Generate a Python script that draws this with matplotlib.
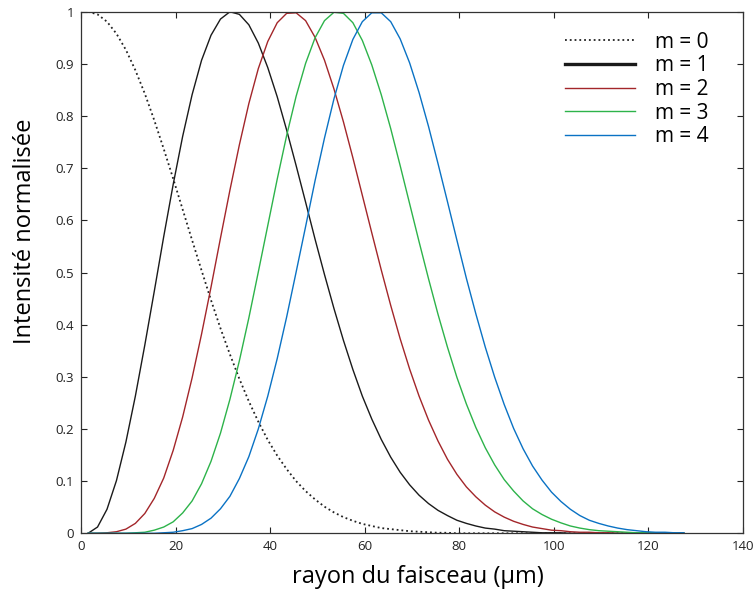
import matplotlib
matplotlib.use("Agg")
import matplotlib.pyplot as plt

# rayon du faisceau (um), echantillonne tous les 2 um
rayon = [1.5, 3.5, 5.5, 7.5, 9.5, 11.5, 13.5, 15.5, 17.5, 19.5,
         21.5, 23.5, 25.5, 27.5, 29.5, 31.5, 33.5, 35.5, 37.5, 39.5,
         41.5, 43.5, 45.5, 47.5, 49.5, 51.5, 53.5, 55.5, 57.5, 59.5,
         61.5, 63.5, 65.5, 67.5, 69.5, 71.5, 73.5, 75.5, 77.5, 79.5,
         81.5, 83.5, 85.5, 87.5, 89.5, 91.5, 93.5, 95.5, 97.5, 99.5,
         101.5, 103.5, 105.5, 107.5, 109.5, 111.5, 113.5, 115.5, 117.5, 119.5,
         121.5, 123.5, 125.5, 127.5]

# intensites normalisees
m0 = [1.000, 0.995, 0.981, 0.958, 0.927, 0.888, 0.843, 0.792, 0.737, 0.680,
      0.621, 0.562, 0.504, 0.447, 0.393, 0.343, 0.296, 0.253, 0.214, 0.179,
      0.149, 0.123, 0.100, 0.081, 0.065, 0.051, 0.040, 0.031, 0.024, 0.018,
      0.014, 0.010, 0.008, 0.006, 0.004, 0.003, 0.002, 0.001, 0.001, 0.000,
      0.000, 0.000, 0.000, 0.000, 0.000, 0.000, 0.000, 0.000, 0.000, 0.000,
      0.000, 0.000, 0.000, 0.000, 0.000, 0.000, 0.000, 0.000, 0.000, 0.000,
      0.000, 0.000, 0.000, 0.000]
m1 = [0.000, 0.012, 0.046, 0.101, 0.175, 0.263, 0.361, 0.464, 0.569, 0.669,
      0.761, 0.841, 0.907, 0.955, 0.986, 1.000, 0.995, 0.975, 0.940, 0.893,
      0.837, 0.773, 0.705, 0.635, 0.564, 0.496, 0.431, 0.370, 0.314, 0.263,
      0.219, 0.180, 0.146, 0.117, 0.093, 0.073, 0.057, 0.044, 0.034, 0.025,
      0.019, 0.014, 0.010, 0.008, 0.005, 0.004, 0.003, 0.002, 0.001, 0.001,
      0.001, 0.000, 0.000, 0.000, 0.000, 0.000, 0.000, 0.000, 0.000, 0.000,
      0.000, 0.000, 0.000, 0.000]
m2 = [0.000, 0.000, 0.001, 0.003, 0.008, 0.019, 0.038, 0.067, 0.106, 0.159,
      0.223, 0.298, 0.382, 0.472, 0.566, 0.658, 0.745, 0.824, 0.891, 0.943,
      0.979, 0.997, 0.998, 0.983, 0.951, 0.907, 0.852, 0.789, 0.720, 0.648,
      0.576, 0.505, 0.437, 0.373, 0.315, 0.263, 0.217, 0.177, 0.142, 0.113,
      0.089, 0.070, 0.054, 0.041, 0.031, 0.023, 0.017, 0.012, 0.009, 0.006,
      0.005, 0.003, 0.002, 0.002, 0.001, 0.001, 0.000, 0.000, 0.000, 0.000,
      0.000, 0.000, 0.000, 0.000]
m3 = [0.000, 0.000, 0.000, 0.000, 0.000, 0.001, 0.002, 0.006, 0.012, 0.022,
      0.039, 0.062, 0.095, 0.138, 0.192, 0.257, 0.331, 0.413, 0.501, 0.590,
      0.679, 0.763, 0.838, 0.901, 0.950, 0.983, 0.999, 0.997, 0.979, 0.945,
      0.898, 0.841, 0.776, 0.705, 0.632, 0.559, 0.488, 0.420, 0.357, 0.299,
      0.248, 0.203, 0.164, 0.131, 0.103, 0.081, 0.062, 0.047, 0.036, 0.027,
      0.020, 0.014, 0.010, 0.007, 0.005, 0.004, 0.003, 0.002, 0.001, 0.001,
      0.001, 0.000, 0.000, 0.000]
m4 = [0.000, 0.000, 0.000, 0.000, 0.000, 0.000, 0.000, 0.000, 0.001, 0.002,
      0.005, 0.009, 0.017, 0.029, 0.047, 0.071, 0.105, 0.147, 0.200, 0.263,
      0.335, 0.415, 0.501, 0.588, 0.676, 0.758, 0.833, 0.897, 0.947, 0.981,
      0.998, 0.998, 0.981, 0.948, 0.902, 0.845, 0.780, 0.709, 0.636, 0.562,
      0.489, 0.421, 0.357, 0.299, 0.247, 0.201, 0.162, 0.129, 0.102, 0.079,
      0.061, 0.046, 0.034, 0.025, 0.019, 0.014, 0.010, 0.007, 0.005, 0.003,
      0.002, 0.002, 0.001, 0.001]

labels = ["m = 0", "m = 1", "m = 2", "m = 3", "m = 4"]
colors = ["#222222", "#1a1a1a", "#a3262a", "#2db34a", "#0a72c4"]
styles = [":", "-", "-", "-", "-"]

x_ticks = [0, 20, 40, 60, 80, 100, 120, 140]
y_ticks = [0, 0.1, 0.2, 0.3, 0.4, 0.5, 0.6, 0.7, 0.8, 0.9, 1]
y_tick_labels = ["0", "0.1", "0.2", "0.3", "0.4", "0.5", "0.6", "0.7", "0.8", "0.9", "1"]

plt.rcParams["font.family"] = ["Open Sans", "DejaVu Sans"]

fig = plt.figure(figsize=(7.54, 5.94), dpi=100)
ax = fig.add_axes([0.1074, 0.1022, 0.878, 0.878])

series = [m0, m1, m2, m3, m4]
for y, lab, c, ls in zip(series, labels, colors, styles):
    lw = 1.3 if ls == ":" else 1.0
    ax.plot(rayon, y, linestyle=ls, color=c, lw=lw, label=lab,
            solid_joinstyle="round")

ax.set_xlim(0, 140)
ax.set_ylim(0, 1)
ax.set_xticks(x_ticks)
ax.set_yticks(y_ticks)
ax.set_yticklabels(y_tick_labels)
ax.tick_params(direction="in", top=True, right=True, length=4, width=0.8,
               labelsize=9.5, colors="#222222", pad=5)
for s in ax.spines.values():
    s.set_color("#333333")
    s.set_linewidth(0.9)

ax.set_xlabel("rayon du faisceau (µm)", fontsize=17)
ax.xaxis.set_label_coords(0.509, -0.06)
ax.set_ylabel("Intensité normalisée", fontsize=17)
ax.yaxis.set_label_coords(-0.067, 0.58)

leg = ax.legend(loc="upper left", bbox_to_anchor=(0.731, 0.962), frameon=False,
                fontsize=15, handlelength=3.37, handletextpad=0.96,
                labelspacing=0.13, borderaxespad=0, borderpad=0)
leg.get_lines()[1].set_linewidth(2.4)

fig.savefig("out.png", dpi=100)
